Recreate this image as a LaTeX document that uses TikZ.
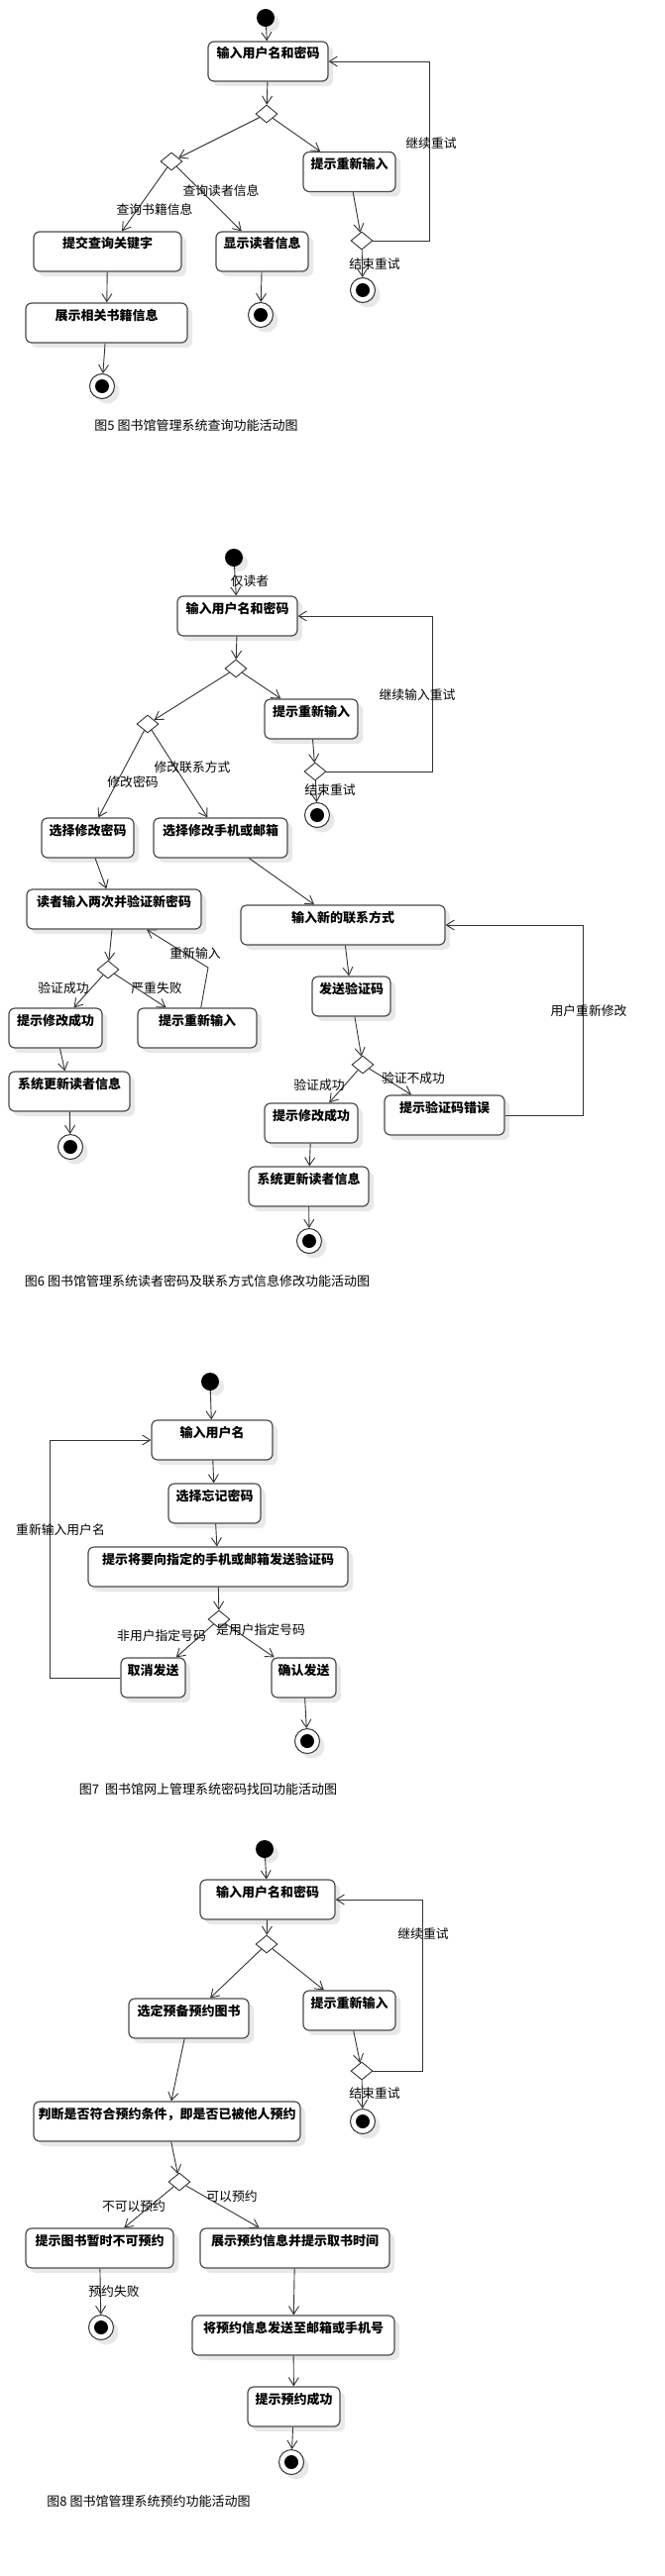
\documentclass[tikz,border=0pt]{standalone}
\usepackage{fontspec}
\setmainfont{Noto Sans CJK SC}
\usetikzlibrary{arrows.meta,shapes.geometric,shadows}
\begin{document}
\begin{tikzpicture}[x=1pt,y=-1pt,
  shd/.style={drop shadow={shadow xshift=5pt,shadow yshift=-5pt,fill=black!9,opacity=1}},
  act/.style={draw=black!70, line width=1.2pt, rounded corners=6pt, fill=white, minimum height=40pt, inner xsep=2pt, inner ysep=5pt, text height=12pt, text depth=18pt, font=\fontsize{13}{15}\selectfont\bfseries, shd},
  startst/.style={circle, fill=black, minimum size=18pt, inner sep=0pt, shd},
  endst/.style={circle, draw=black!80, line width=1pt, fill=white, minimum size=25pt, inner sep=0pt, shd, path picture={\fill[black] (path picture bounding box.center) circle[radius=7pt];}},
  dec/.style={diamond, draw=black!80, line width=0.9pt, fill=white, minimum width=22pt, minimum height=18pt, inner sep=0pt},
  arr/.style={draw=black!80, line width=0.9pt, -{Straight Barb[length=8pt,width=10pt]}},
  lab/.style={font=\fontsize{12.8}{15}\selectfont, inner sep=0pt},
  captxt/.style={font=\fontsize{13}{15}\selectfont, inner sep=0pt}]
\useasboundingbox (0,0) rectangle (670,2601);
\fill[white] (0,0) rectangle (670,2601);

% ---------- Figure 5 ----------
\node[startst] (s1) at (268,18) {};
\node[act, minimum width=121pt] (a1) at (270.5,62) {输入用户名和密码};
\node[dec] (d11) at (269,115) {};
\node[dec] (d12) at (173,163) {};
\node[act, minimum width=93pt] (p1) at (352.5,173.5) {提示重新输入};
\node[dec] (d13) at (365,243) {};
\node[endst] (e11) at (366,293) {};
\node[act, minimum width=149pt] (q1) at (108.5,254) {提交查询关键字};
\node[act, minimum width=93pt] (r1) at (264.5,254) {显示读者信息};
\node[act, minimum width=163pt] (b1) at (107.5,326) {展示相关书籍信息};
\node[endst] (e12) at (103,390) {};
\node[endst] (e13) at (263,318) {};
\coordinate (c1) at (433,62);
\draw[arr] (s1) -- (a1);
\draw[arr] (a1) -- (d11);
\draw[arr] (d11) -- (d12);
\draw[arr] (d11) -- (p1);
\draw[arr] (d12) -- (q1);
\draw[arr] (d12) -- (r1);
\draw[arr] (q1) -- (b1);
\draw[arr] (b1) -- (e12);
\draw[arr] (r1) -- (e13);
\draw[arr] (p1) -- (d13);
\draw[arr] (d13) -- (e11);
\draw[arr] (d13.east) -| (c1) -- (a1.east);
\node[lab] (l11) at (435,145) {继续重试};
\node[lab] (l12) at (378,267) {结束重试};
\node[lab] (l13) at (223,193) {查询读者信息};
\node[lab] (l14) at (156,212) {查询书籍信息};
\node[captxt] (cap1) at (198,430) {图5 图书馆管理系统查询功能活动图};

% ---------- Figure 6 ----------
\node[startst] (s2) at (236,563) {};
\node[act, minimum width=121pt] (a2) at (239.5,622) {输入用户名和密码};
\node[dec] (d21) at (238,675) {};
\node[dec] (d22) at (149,731) {};
\node[act, minimum width=94pt] (p21) at (314,726) {提示重新输入};
\node[dec] (d23) at (318,779) {};
\node[endst] (e21) at (320,823) {};
\node[act, minimum width=93pt] (m1) at (88.5,846) {选择修改密码};
\node[act, minimum width=135pt] (m2) at (222.5,846) {选择修改手机或邮箱};
\node[act, minimum width=176pt] (rd) at (115,918) {读者输入两次并验证新密码};
\node[act, minimum width=206pt] (nc) at (346,934) {输入新的联系方式};
\node[dec] (d24) at (109,979) {};
\node[act, minimum width=94pt] (ok1) at (56,1038) {提示修改成功};
\node[act, minimum width=120pt] (p22) at (199,1038) {提示重新输入};
\node[act, minimum width=122pt] (up1) at (70,1102) {系统更新读者信息};
\node[endst] (e22) at (71,1158) {};
\node[act, minimum width=79pt] (sv) at (354.5,1006) {发送验证码};
\node[dec] (d25) at (366,1075) {};
\node[act, minimum width=94pt] (ok2) at (314,1134) {提示修改成功};
\node[act, minimum width=121pt] (err) at (448.5,1126) {提示验证码错误};
\node[act, minimum width=121pt] (up2) at (311.5,1198) {系统更新读者信息};
\node[endst] (e23) at (312,1253) {};
\coordinate (c2) at (436,622);
\coordinate (c3) at (210,977);
\coordinate (c4) at (588,934);
\draw[arr] (s2) -- (a2);
\draw[arr] (a2) -- (d21);
\draw[arr] (d21) -- (d22);
\draw[arr] (d21) -- (p21);
\draw[arr] (p21) -- (d23);
\draw[arr] (d23) -- (e21);
\draw[arr] (d23.east) -| (c2) -- (a2.east);
\draw[arr] (d22) -- (m1);
\draw[arr] (d22) -- (m2);
\draw[arr] (m1) -- (rd);
\draw[arr] (m2) -- (nc);
\draw[arr] (rd) -- (d24);
\draw[arr] (d24) -- (ok1);
\draw[arr] (d24) -- (p22);
\draw[arr] (p22) -- (c3) -- (rd);
\draw[arr] (ok1) -- (up1);
\draw[arr] (up1) -- (e22);
\draw[arr] (nc) -- (sv);
\draw[arr] (sv) -- (d25);
\draw[arr] (d25) -- (ok2);
\draw[arr] (d25) -- (err);
\draw[arr] (err.east) -| (c4) -- (nc.east);
\draw[arr] (ok2) -- (up2);
\draw[arr] (up2) -- (e23);
\node[lab] (l21) at (252,587) {仅读者};
\node[lab] (l22) at (421,702) {继续输入重试};
\node[lab] (l23) at (333,798) {结束重试};
\node[lab] (l24) at (194,775) {修改联系方式};
\node[lab] (l25) at (134,790) {修改密码};
\node[lab] (l26) at (197,963) {重新输入};
\node[lab] (l27) at (64,998) {验证成功};
\node[lab] (l28) at (158,998) {严重失败};
\node[lab] (l29) at (322,1096) {验证成功};
\node[lab] (l210) at (417,1089) {验证不成功};
\node[lab] (l211) at (594,1021) {用户重新修改};
\node[captxt] (cap2) at (199,1294) {图6 图书馆管理系统读者密码及联系方式信息修改功能活动图};

% ---------- Figure 7 ----------
\node[startst] (s3) at (212,1395) {};
\node[act, minimum width=122pt] (u3) at (214,1454) {输入用户名};
\node[act, minimum width=93pt] (f3) at (216.5,1518) {选择忘记密码};
\node[act, minimum width=262pt] (t3) at (220,1582) {提示将要向指定的手机或邮箱发送验证码};
\node[dec] (d31) at (221,1635) {};
\node[act, minimum width=65pt] (x3) at (154.5,1694) {取消发送};
\node[act, minimum width=65pt] (k3) at (306.5,1694) {确认发送};
\node[endst] (e31) at (310,1758) {};
\coordinate (c5) at (50,1454);
\draw[arr] (s3) -- (u3);
\draw[arr] (u3) -- (f3);
\draw[arr] (f3) -- (t3);
\draw[arr] (t3) -- (d31);
\draw[arr] (d31) -- (x3);
\draw[arr] (d31) -- (k3);
\draw[arr] (k3) -- (e31);
\draw[arr] (x3.west) -| (c5) -- (u3.west);
\node[lab] (l31) at (61,1545) {重新输入用户名};
\node[lab] (l32) at (163,1652) {非用户指定号码};
\node[lab] (l33) at (263,1646) {是用户指定号码};
\node[captxt] (cap3) at (210,1806) {图7\ \ 图书馆网上管理系统密码找回功能活动图};

% ---------- Figure 8 ----------
\node[startst] (s4) at (267,1867) {};
\node[act, minimum width=136pt] (a4) at (270,1918) {输入用户名和密码};
\node[dec] (d41) at (269,1963) {};
\node[act, minimum width=93pt] (p4) at (352.5,2030) {提示重新输入};
\node[dec] (d43) at (365,2091) {};
\node[endst] (e41) at (366,2142) {};
\node[act, minimum width=121pt] (sel) at (190.5,2038) {选定预备预约图书};
\node[act, minimum width=269pt] (jd) at (168.5,2142) {判断是否符合预约条件，即是否已被他人预约};
\node[dec] (d42) at (181,2203) {};
\node[act, minimum width=149pt] (no4) at (100.5,2270) {提示图书暂时不可预约};
\node[act, minimum width=191pt] (yes4) at (297.5,2270) {展示预约信息并提示取书时间};
\node[endst] (e42) at (102,2350) {};
\node[act, minimum width=204pt] (snd) at (296,2358) {将预约信息发送至邮箱或手机号};
\node[act, minimum width=93pt] (suc) at (296.5,2430) {提示预约成功};
\node[endst] (e43) at (294,2486) {};
\coordinate (c6) at (426,1918);
\draw[arr] (s4) -- (a4);
\draw[arr] (a4) -- (d41);
\draw[arr] (d41) -- (p4);
\draw[arr] (d41) -- (sel);
\draw[arr] (p4) -- (d43);
\draw[arr] (d43) -- (e41);
\draw[arr] (d43.east) -| (c6) -- (a4.east);
\draw[arr] (sel) -- (jd);
\draw[arr] (jd) -- (d42);
\draw[arr] (d42) -- (no4);
\draw[arr] (d42) -- (yes4);
\draw[arr] (no4) -- (e42);
\draw[arr] (yes4) -- (snd);
\draw[arr] (snd) -- (suc);
\draw[arr] (suc) -- (e43);
\node[lab] (l41) at (427,1953) {继续重试};
\node[lab] (l42) at (378,2114) {结束重试};
\node[lab] (l43) at (234,2218) {可以预约};
\node[lab] (l44) at (135,2228) {不可以预约};
\node[lab] (l45) at (115,2314) {预约失败};
\node[captxt] (cap4) at (150,2526) {图8 图书馆管理系统预约功能活动图};
\end{tikzpicture}
\end{document}
